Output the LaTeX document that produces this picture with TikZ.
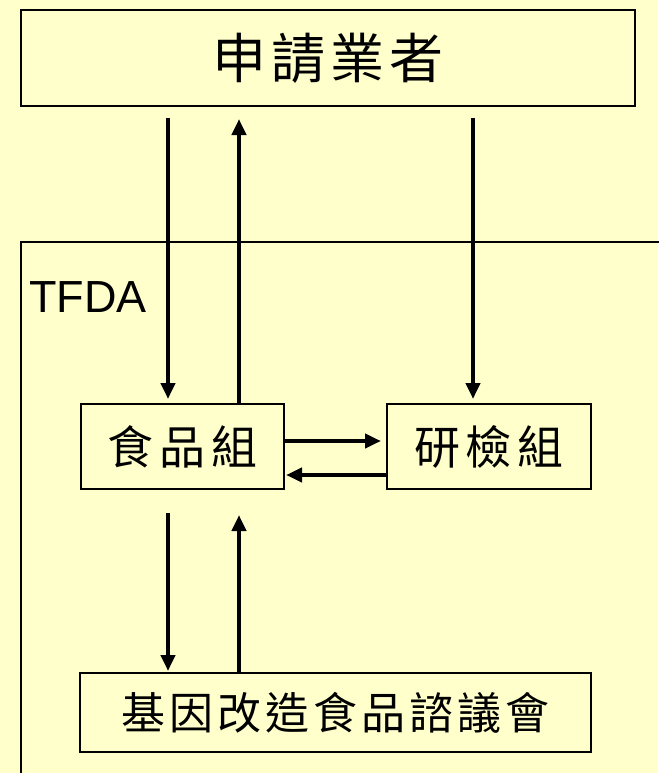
\documentclass[tikz,border=0pt]{standalone}
\usepackage{fontspec}
\setmainfont{Liberation Sans}
\newfontfamily\cjk{Noto Sans CJK TC}
\usetikzlibrary{arrows.meta}
\definecolor{bg}{HTML}{FFFFCC}
\newcommand{\cg}[1]{\hspace{#1pt}}
\begin{document}
\begin{tikzpicture}[x=1pt,y=-1pt,
  box/.style={draw=black, line width=2pt, fill=bg, inner sep=0pt},
  arr/.style={line width=4pt, -{Triangle[length=16pt,width=14pt]}},
  frame/.style={line width=1.5pt},
]
\useasboundingbox (0,0) rectangle (658,773);
\fill[bg] (0,0) rectangle (658,773);
% TFDA region
\draw[frame] (21,800) -- (21,242) -- (700,242);
\node[anchor=base west, inner sep=0pt, font=\fontsize{45}{50}\selectfont] (tfda) at (29,312) {TFDA};
% boxes
\node[box, minimum width=614pt, minimum height=96pt] (top) at (328,58)
  {\cjk\fontsize{54}{60}\selectfont 申\cg{5}請\cg{5}業\cg{5}者};
\node[box, minimum width=203pt, minimum height=85pt] (food) at (182.5,446.5)
  {\cjk\fontsize{46}{50}\selectfont 食\cg{6}品\cg{6}組};
\node[box, minimum width=204pt, minimum height=85pt] (lab) at (489,446.5)
  {\cjk\fontsize{46}{50}\selectfont 研\cg{6}檢\cg{6}組};
\node[box, minimum width=511pt, minimum height=79pt] (gm) at (335.5,712.5)
  {\cjk\fontsize{44}{50}\selectfont 基\cg{4}因\cg{4}改\cg{4}造\cg{4}食\cg{4}品\cg{4}諮\cg{4}議\cg{4}會};
% columns
\coordinate (c1) at (168,0);
\coordinate (c2) at (239,0);
\coordinate (c3) at (473,0);
\coordinate (r1) at (0,441);
\coordinate (r2) at (0,475);
% arrows
\draw[arr, shorten <=11pt, shorten >=4pt] (top.south -| c1) -- (food.north -| c1);
\draw[arr, shorten >=12pt] (food.north -| c2) -- (top.south -| c2);
\draw[arr, shorten <=11pt, shorten >=4pt] (top.south -| c3) -- (lab.north -| c3);
\draw[arr, shorten >=5pt] (food.east |- r1) -- (lab.west |- r1);
\draw[arr, shorten >=1pt] (lab.west |- r2) -- (food.east |- r2);
\draw[arr, shorten <=23pt, shorten >=1pt] (food.south -| c1) -- (gm.north -| c1);
\draw[arr, shorten >=25pt] (gm.north -| c2) -- (food.south -| c2);
\end{tikzpicture}
\end{document}
